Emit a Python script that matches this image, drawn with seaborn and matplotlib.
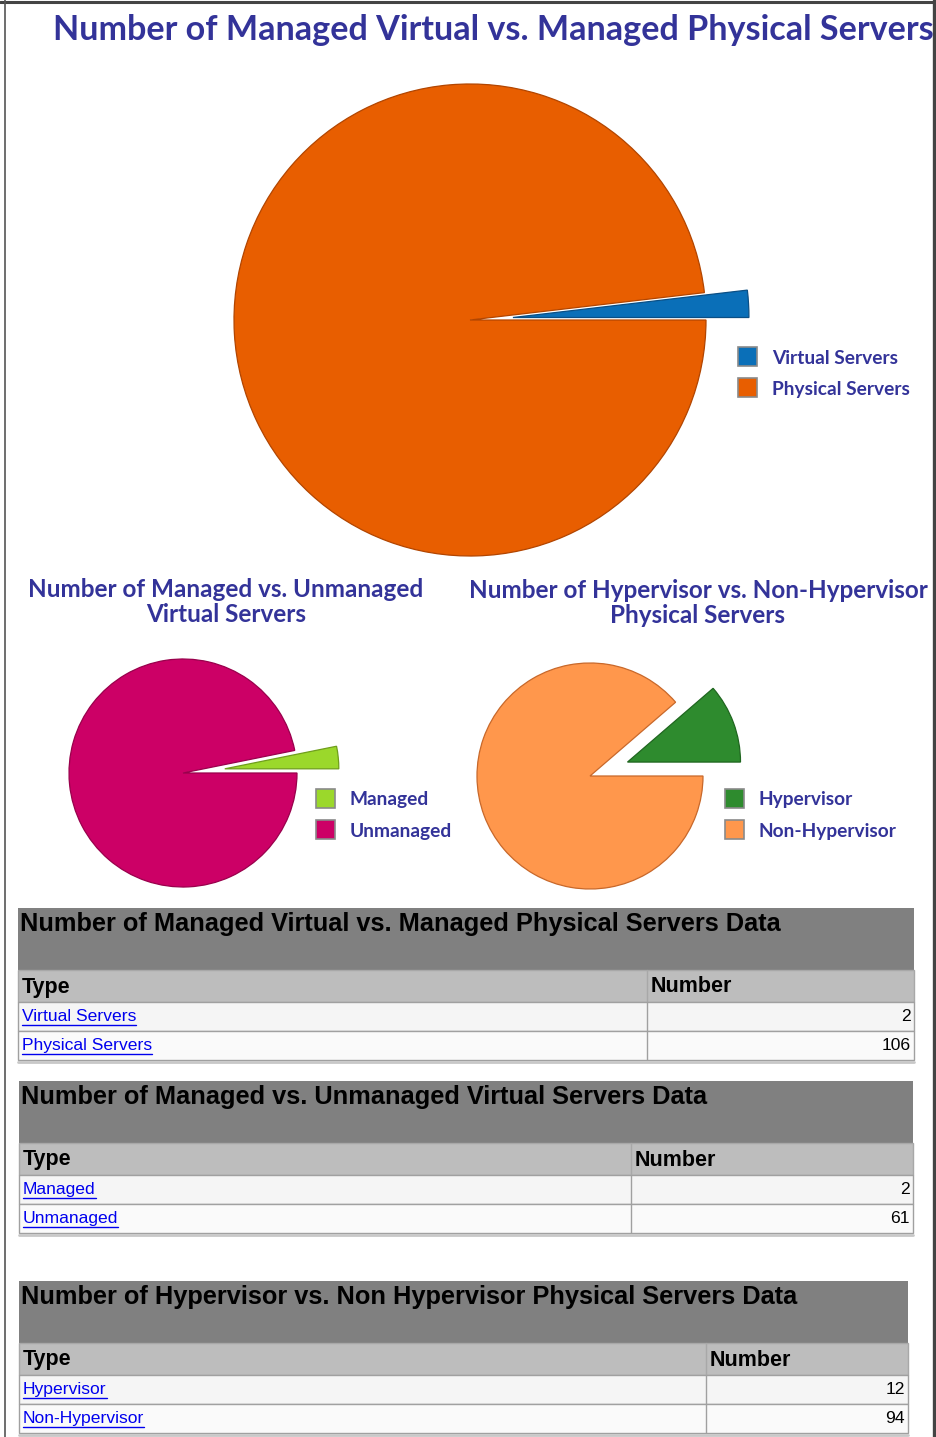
import numpy as np
import pandas as pd
import matplotlib
matplotlib.use("Agg")
import matplotlib.pyplot as plt
import seaborn as sns
from matplotlib.patches import Rectangle

sns.set_theme(style="white")
plt.rcParams["font.family"] = ["DejaVu Sans"]

W, H = 937, 1437

# ---------------- data ----------------
main_title = "Number of Managed Virtual vs. Managed Physical Servers"
vp_labels = ["Virtual Servers", "Physical Servers"]
vp_values = [2, 106]
vp_colors = ["#0a6fb8", "#e85e00"]
vp_edges = ["#0a4f85", "#b24500"]

mu_title = "Number of Managed vs. Unmanaged\nVirtual Servers"
mu_labels = ["Managed", "Unmanaged"]
mu_values = [2, 61]
mu_colors = ["#9bd82b", "#cc0066"]
mu_edges = ["#6f9e1c", "#99004c"]

hn_title = "Number of Hypervisor vs. Non-Hypervisor\nPhysical Servers"
hn_labels = ["Hypervisor", "Non-Hypervisor"]
hn_values = [12, 94]
hn_colors = ["#2e8b2e", "#ff974c"]
hn_edges = ["#1f661f", "#c8682a"]

table_titles = [
    "Number of Managed Virtual vs. Managed Physical Servers Data",
    "Number of Managed vs. Unmanaged Virtual Servers Data",
    "Number of Hypervisor vs. Non Hypervisor Physical Servers Data",
]
table_col_headers = ["Type", "Number"]

TITLE_COLOR = "#333399"
TITLE_FONT = ["Lato", "DejaVu Sans"]
TABLE_FONT = ["Liberation Sans", "DejaVu Sans"]

fig = plt.figure(figsize=(W / 100, H / 100), dpi=100)
fig.patch.set_facecolor("white")
bg = fig.add_axes([0, 0, 1, 1])
bg.set_xlim(0, W)
bg.set_ylim(H, 0)
bg.axis("off")


def pie_axes(cx, cy, r, half):
    ax = fig.add_axes([(cx - half) / W, 1 - (cy + half) / H, 2 * half / W, 2 * half / H])
    return ax, half / r


def draw_pie(cx, cy, r, values, colors, edges, explode_px):
    half = r + 60
    ax, lim = pie_axes(cx, cy, r, half)
    wedges, _ = ax.pie(values, colors=colors, startangle=0, counterclock=True,
                       explode=[explode_px / r, 0], radius=1,
                       wedgeprops=dict(linewidth=0.9))
    for w, e in zip(wedges, edges):
        w.set_edgecolor(e)
    ax.set_xlim(-lim, lim)
    ax.set_ylim(-lim, lim)
    ax.axis("off")
    return ax


def draw_legend(x, y, labels, colors, fs=13.8):
    for i, (lab, col) in enumerate(zip(labels, colors)):
        yy = y + i * 31
        bg.add_patch(Rectangle((x, yy), 19, 19, facecolor=col, edgecolor="#8a8a8a", lw=1.2))
        bg.text(x + 34, yy + 11, lab, color=TITLE_COLOR, fontsize=fs, fontweight="bold",
                family=TITLE_FONT, va="center", ha="left")


# ---------------- charts ----------------
bg.text(53, 30, main_title, color=TITLE_COLOR, fontsize=24.6, fontweight="bold",
        family=TITLE_FONT, va="center", ha="left")

draw_pie(470, 320, 236, vp_values, vp_colors, vp_edges, 43)
draw_legend(738, 347, vp_labels, vp_colors)

bg.text(226, 602, mu_title, color=TITLE_COLOR, fontsize=17.5, fontweight="bold",
        family=TITLE_FONT, va="center", ha="center", linespacing=1.15)
bg.text(698, 603, hn_title, color=TITLE_COLOR, fontsize=17.5, fontweight="bold",
        family=TITLE_FONT, va="center", ha="center", linespacing=1.15)

draw_pie(183, 773, 114, mu_values, mu_colors, mu_edges, 42)
draw_legend(316, 789, mu_labels, mu_colors)

draw_pie(590, 776, 113, hn_values, hn_colors, hn_edges, 40)
draw_legend(725, 789, hn_labels, hn_colors)

# ---------------- tables ----------------
renderer = fig.canvas.get_renderer()


def draw_table(x0, x1, y0, split, title, labels, values):
    th, ch, rh = 62, 32, 29
    bg.add_patch(Rectangle((x0, y0), x1 - x0, th, facecolor="#808080", edgecolor="none"))
    bg.text(x0 + 2, y0 + 16, title, fontsize=18.3, fontweight="bold", family=TABLE_FONT,
            color="black", va="center", ha="left")
    yc = y0 + th
    bg.add_patch(Rectangle((x0, yc), x1 - x0, ch, facecolor="#bdbdbd", edgecolor="#a8a8a8", lw=1))
    bg.plot([split, split], [yc, yc + ch], color="#a8a8a8", lw=1)
    bg.text(x0 + 4, yc + ch / 2 + 1, table_col_headers[0], fontsize=15.5, fontweight="bold",
            family=TABLE_FONT, color="black", va="center", ha="left")
    bg.text(split + 4, yc + ch / 2 + 1, table_col_headers[1], fontsize=15.5, fontweight="bold",
            family=TABLE_FONT, color="black", va="center", ha="left")
    for i, (lab, val) in enumerate(zip(labels, values)):
        ry = yc + ch + i * rh
        bg.add_patch(Rectangle((x0, ry), x1 - x0, rh, facecolor="#f5f5f5" if i == 0 else "#fafafa",
                               edgecolor="#a0a0a0", lw=1))
        bg.plot([split, split], [ry, ry + rh], color="#a0a0a0", lw=1)
        t = bg.text(x0 + 4, ry + rh / 2, lab, fontsize=12.6, family=TABLE_FONT,
                    color="#0000ee", va="center", ha="left")
        bb = t.get_window_extent(renderer=renderer)
        uy = ry + rh / 2 + 8
        bg.plot([bb.x0, bb.x1], [uy, uy], color="#0000ee", lw=1)
        bg.text(x1 - 3, ry + rh / 2, str(val), fontsize=12.6, family=TABLE_FONT,
                color="black", va="center", ha="right")
    bottom = yc + ch + len(labels) * rh
    bg.plot([x0, x1], [bottom + 1.5, bottom + 1.5], color="#c8c8c8", lw=2)


draw_table(18, 914, 908, 647, table_titles[0], vp_labels, vp_values)
draw_table(19, 913, 1081, 631, table_titles[1], mu_labels, mu_values)
draw_table(19, 908, 1281, 706, table_titles[2], hn_labels, hn_values)

# ---------------- page frame ----------------
bg.plot([0, W], [1.5, 1.5], color="#444444", lw=2.2)
bg.plot([5.5, 5.5], [0, H], color="#555555", lw=1.2)
bg.plot([934.5, 934.5], [0, H], color="#444444", lw=2.4)

fig.savefig("out.png", dpi=100, facecolor="white")
